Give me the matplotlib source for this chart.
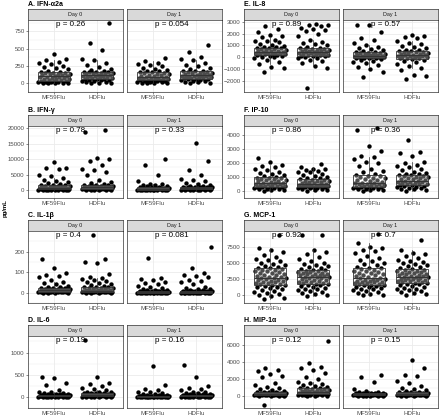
import numpy as np
import matplotlib
matplotlib.use('Agg')
import matplotlib.pyplot as plt
import matplotlib.transforms as mtransforms

plt.rcParams['font.family'] = ['Liberation Sans', 'DejaVu Sans']

# ---- data (pg/mL), order of each *_box: d0 MF59Flu, d0 HDFlu, d1 MF59Flu, d1 HDFlu ----
days = ['Day 0', 'Day 1']
groups = ['MF59Flu', 'HDFlu']

# A. IFN-a2a
ifna_d0_mf = [0, 2, 5, 8, 12, 15, 18, 22, 26, 30, 34, 40, 45, 50, 56, 62, 68, 74, 80, 86, 92, 97,
              104, 110, 116, 122, 128, 134, 140, 145, 150, 154, 158, 170, 185, 200, 215, 235, 255, 280, 300, 310, 330, 350, 430]
ifna_d0_hd = [0, 5, 10, 18, 25, 32, 38, 44, 49, 53, 57, 63, 68, 74, 80, 86, 92, 97, 102, 106, 110, 113,
              118, 124, 130, 136, 142, 148, 153, 158, 162, 165, 167, 180, 195, 210, 230, 260, 300, 330, 350, 480, 580, 870]
ifna_d1_mf = [0, 3, 6, 10, 14, 18, 22, 27, 31, 35, 39, 45, 50, 54, 58, 62, 66, 70, 74, 78, 82, 85,
              92, 100, 108, 116, 124, 132, 140, 148, 155, 161, 166, 175, 185, 195, 210, 225, 245, 265, 280, 300, 320, 360]
ifna_d1_hd = [0, 8, 15, 22, 30, 38, 45, 52, 58, 63, 66, 72, 76, 80, 85, 90, 95, 100, 104, 108, 111, 113,
              120, 126, 132, 138, 144, 150, 156, 162, 167, 172, 176, 185, 200, 220, 245, 270, 300, 330, 350, 380, 450, 550]
ifna_box = [[36, 100, 159], [59, 114, 168], [41, 86, 168], [68, 114, 177]]
ifna_p = ['0.26', '0.054']

# B. IFN-g
ifng_d0_mf = [0, 30, 60, 90, 120, 150, 180, 200, 220, 235, 245, 280, 330, 380, 430, 480, 530, 580, 630, 680, 730, 780,
              850, 930, 1000, 1100, 1200, 1300, 1400, 1500, 1600, 1700, 1780, 2000, 2300, 2600, 2900, 3300, 4000, 4500, 4800, 7000, 7200, 7300, 9000]
ifng_d0_hd = [0, 40, 80, 120, 160, 200, 240, 280, 320, 360, 390, 430, 470, 520, 570, 620, 670, 720, 770, 820, 860, 890,
              950, 1020, 1100, 1180, 1260, 1340, 1420, 1500, 1600, 1700, 1780, 2000, 2400, 2800, 3300, 5000, 6000, 6500, 7000, 8000, 9500, 10000, 10300, 18800, 19500]
ifng_d1_mf = [0, 20, 40, 60, 80, 100, 120, 140, 160, 180, 195, 220, 250, 280, 310, 340, 370, 400, 430, 460, 480, 495,
              530, 570, 610, 650, 690, 730, 780, 830, 880, 930, 980, 1100, 1250, 1400, 1550, 1700, 1900, 2100, 3000, 5000, 8000, 10000]
ifng_d1_hd = [0, 30, 60, 90, 120, 150, 180, 210, 240, 270, 290, 320, 350, 380, 410, 440, 470, 500, 530, 560, 580, 595,
              640, 690, 740, 790, 840, 890, 940, 990, 1050, 1120, 1180, 1300, 1500, 1700, 2000, 2400, 3000, 3300, 3500, 4800, 6500, 9300, 15300]
ifng_box = [[250, 800, 1800], [400, 900, 1800], [200, 500, 1000], [300, 600, 1200]]
ifng_p = ['0.78', '0.33']

# C. IL-1b
il1b_d0_mf = [0, 0.3, 0.6, 0.9, 1.2, 1.5, 1.8, 2.1, 2.4, 2.7, 2.9, 3.5, 4, 5, 6, 7, 8, 9, 10, 10.5, 11, 11.5,
              13, 14, 15, 16, 17, 18, 19, 20, 21, 22, 22.5, 26, 30, 35, 40, 45, 50, 60, 75, 80, 85, 95, 120, 165]
il1b_d0_hd = [0, 0.3, 0.6, 0.9, 1.2, 1.5, 1.8, 2.1, 2.4, 2.7, 2.9, 3.5, 4, 4.5, 5, 6, 6.5, 7, 8, 8.5, 9, 9.5,
              11, 13, 15, 17, 19, 21, 23, 25, 27, 28, 29, 33, 37, 40, 45, 50, 55, 60, 65, 70, 75, 90, 145, 150, 165, 280]
il1b_d1_mf = [0, 0, 0.1, 0.1, 0.2, 0.2, 0.3, 0.3, 0.4, 0.4, 0.5, 0.7, 0.9, 1.1, 1.3, 1.5, 1.8, 2.0, 2.3, 2.5, 2.7, 2.9,
              3.3, 3.7, 4.1, 4.5, 5, 5.5, 6, 6.5, 7, 7.5, 7.9, 9, 11, 13, 15, 20, 25, 30, 35, 40, 45, 50, 60, 65, 70, 170]
il1b_d1_hd = [0, 0, 0.1, 0.1, 0.2, 0.2, 0.3, 0.3, 0.4, 0.4, 0.5, 0.8, 1.1, 1.4, 1.7, 2, 2.3, 2.6, 2.9, 3.2, 3.5, 3.8,
              4.5, 5, 5.5, 6, 6.5, 7, 7.5, 8, 8.5, 9, 9.7, 12, 14, 17, 20, 25, 30, 40, 50, 55, 60, 75, 80, 85, 95, 120, 220]
il1b_box = [[3, 12, 23], [3, 10, 30], [0.5, 3, 8], [0.5, 4, 10]]
il1b_p = ['0.4', '0.081']

# D. IL-6
il6_d0_mf = [0, 1, 2, 3, 4, 5, 6, 7, 8, 9, 9.5, 12, 14, 16, 18, 20, 22, 24, 26, 27, 28, 29,
             32, 34, 36, 38, 40, 42, 44, 46, 47, 48, 49, 55, 60, 65, 70, 80, 90, 100, 120, 150, 270, 320, 420, 440]
il6_d0_hd = [0, 1.5, 3, 4.5, 6, 7.5, 9, 10.5, 12, 13, 14, 17, 19, 22, 24, 27, 29, 31, 33, 35, 37, 39,
             43, 47, 51, 55, 59, 63, 67, 71, 74, 77, 79, 85, 90, 100, 110, 120, 150, 180, 200, 250, 300, 320, 460, 1290]
il6_d1_mf = [0, 0.5, 1, 1.5, 2, 2.5, 3, 3.5, 4, 4.5, 4.8, 6, 7, 8, 9, 10, 11, 12, 13, 13.5, 14, 14.5,
             16, 17.5, 19, 20.5, 22, 23.5, 25, 26.5, 28, 29, 29.5, 35, 40, 45, 55, 65, 80, 100, 120, 150, 180, 260, 700]
il6_d1_hd = [0, 1, 2, 3, 4, 5, 6, 7, 8, 9, 9.5, 11, 12.5, 14, 15.5, 17, 18.5, 20, 21.5, 23, 24, 24.5,
             27, 29, 31, 33, 35, 37.5, 40, 42.5, 45, 47.5, 49, 55, 60, 70, 80, 90, 100, 120, 150, 180, 200, 240, 460, 720]
il6_box = [[10, 30, 50], [15, 40, 80], [5, 15, 30], [10, 25, 50]]
il6_p = ['0.19', '0.16']

# E. IL-8
il8_d0_mf = [-1200, -900, -800, -600, -400, -250, -100, 0, 60, 110, 150, 190, 215, 240, 265, 290, 315, 340, 360, 380, 400, 415,
             450, 490, 530, 570, 610, 650, 690, 730, 760, 790, 810, 850, 900, 980, 1050, 1150, 1250, 1350, 1400, 1500, 1700, 1800, 1900, 2100, 2400, 2600]
il8_d0_hd = [-2600, -900, -700, -500, -350, -200, -100, -20, 30, 70, 100, 140, 170, 200, 230, 260, 290, 320, 350, 375, 395, 410,
             450, 480, 510, 540, 570, 600, 630, 670, 700, 730, 750, 800, 900, 1000, 1100, 1200, 1300, 1500, 1800, 2000, 2200, 2300, 2400, 2500, 2600, 2700, 2750, 2800]
il8_d1_mf = [-1700, -1200, -1000, -800, -650, -500, -400, -300, -200, -150, -100, -70, -50, -30, -10, 10, 30, 50, 70, 85, 95, 105,
             130, 160, 190, 220, 250, 280, 310, 340, 370, 395, 415, 460, 520, 600, 700, 800, 900, 1000, 1200, 1500, 1600, 2100, 2700, 2750]
il8_d1_hd = [-1800, -1600, -1500, -1100, -900, -700, -550, -400, -300, -200, -130, -90, -60, -30, 0, 30, 60, 90, 115, 135, 150, 165,
             200, 235, 270, 305, 340, 375, 410, 445, 475, 500, 525, 580, 650, 750, 850, 950, 1100, 1200, 1400, 1600, 1700, 1800, 1900]
il8_box = [[170, 420, 815], [110, 420, 760], [-85, 110, 420], [-110, 170, 530]]
il8_p = ['0.89', '0.57']

# F. IP-10
ip10_d0_mf = [0, 40, 80, 120, 150, 180, 210, 235, 255, 275, 290, 320, 345, 370, 395, 420, 445, 470, 495, 520, 545, 565,
              610, 650, 690, 730, 770, 810, 850, 890, 920, 950, 970, 1020, 1080, 1150, 1220, 1300, 1400, 1500, 1600, 1700, 1800, 1900, 2050, 2350]
ip10_d0_hd = [0, 50, 90, 130, 160, 190, 220, 245, 265, 280, 290, 310, 325, 340, 355, 370, 385, 400, 420, 440, 460, 475,
              510, 545, 580, 615, 650, 685, 720, 755, 790, 825, 855, 900, 950, 1000, 1080, 1150, 1250, 1350, 1400, 1450, 1500, 1550, 1600, 1700, 1950]
ip10_d1_mf = [0, 40, 80, 120, 150, 180, 210, 235, 255, 275, 290, 320, 350, 380, 410, 440, 470, 500, 530, 560, 585, 605,
              660, 710, 760, 810, 860, 910, 960, 1010, 1060, 1110, 1150, 1250, 1350, 1450, 1600, 1800, 2000, 2100, 2300, 2450, 2500, 2900, 3250, 4400, 4500]
ip10_d1_hd = [0, 60, 120, 170, 210, 250, 290, 320, 350, 380, 400, 440, 470, 500, 530, 560, 590, 620, 650, 680, 710, 740,
              790, 830, 870, 910, 950, 990, 1030, 1070, 1100, 1130, 1155, 1200, 1250, 1300, 1400, 1500, 1600, 1700, 1800, 1900, 2000, 2100, 2500, 2700, 2800, 3650]
ip10_box = [[295, 570, 975], [295, 480, 860], [295, 610, 1160], [410, 750, 1160]]
ip10_p = ['0.86', '0.36']

# G. MCP-1
mcp1_d0_mf = [-700, -400, -100, 0, 150, 300, 450, 600, 750, 900, 1050, 1200, 1300, 1400, 1500,
              1600, 1680, 1760, 1840, 1920, 2000, 2080, 2160, 2240, 2320, 2400, 2480, 2560, 2620, 2670,
              2750, 2850, 2950, 3050, 3150, 3250, 3350, 3450, 3550, 3650, 3750, 3850, 3950, 4050, 4120,
              4250, 4400, 4550, 4700, 4850, 5000, 5200, 5400, 5600, 5900, 6200, 6600, 7000, 7300, 9300]
mcp1_d0_hd = [-200, 0, 100, 250, 400, 550, 700, 850, 1000, 1150, 1300, 1420, 1530, 1620, 1690,
              1760, 1840, 1920, 2000, 2080, 2160, 2240, 2320, 2400, 2480, 2560, 2640, 2720, 2780, 2820,
              2900, 2970, 3040, 3110, 3180, 3250, 3320, 3390, 3460, 3530, 3600, 3670, 3740, 3810, 3860,
              4000, 4150, 4300, 4450, 4600, 4800, 5000, 5300, 5600, 5900, 6300, 6600, 7000, 9250, 9300]
mcp1_d1_mf = [0, 50, 150, 300, 450, 600, 750, 900, 1000, 1100, 1200, 1300, 1400, 1470, 1530,
              1600, 1670, 1740, 1810, 1880, 1950, 2020, 2090, 2160, 2230, 2300, 2370, 2440, 2510, 2570,
              2700, 2810, 2920, 3030, 3140, 3250, 3360, 3470, 3580, 3690, 3800, 3910, 4020, 4130, 4220,
              4400, 4600, 4800, 5000, 5250, 5500, 5800, 6100, 6500, 6800, 7000, 7300, 7500, 8000, 9400]
mcp1_d1_hd = [0, 100, 250, 400, 550, 700, 850, 1000, 1150, 1300, 1450, 1580, 1680, 1770, 1840,
              1900, 1970, 2040, 2110, 2180, 2250, 2320, 2390, 2460, 2530, 2600, 2670, 2740, 2790, 2830,
              2900, 2980, 3060, 3140, 3220, 3300, 3380, 3460, 3540, 3620, 3700, 3780, 3860, 3940, 4050,
              4200, 4350, 4500, 4650, 4800, 4950, 5100, 5300, 5500, 5700, 6000, 6300, 6500, 7000, 8600]
mcp1_box = [[1550, 2690, 4140], [1710, 2840, 3880], [1550, 2585, 4240], [1860, 2840, 4080]]
mcp1_p = ['0.92', '0.7']

# H. MIP-1a
mip1a_d0_mf = [-1000, 0, 20, 40, 55, 70, 85, 95, 105, 112, 118, 130, 140, 150, 160, 170, 180, 190, 200, 210, 220, 230,
               250, 265, 280, 300, 320, 340, 360, 380, 400, 415, 425, 470, 520, 600, 700, 800, 900, 1100, 1300, 1500, 2200, 2400, 2600, 2900, 3000, 3300]
mip1a_d0_hd = [0, 20, 40, 60, 80, 100, 120, 140, 160, 180, 195, 220, 240, 260, 280, 300, 320, 340, 360, 385, 405, 425,
               470, 510, 550, 590, 630, 670, 710, 750, 800, 850, 890, 950, 1000, 1100, 1200, 1300, 1400, 1500, 1700, 2000, 2200, 2700, 3000, 3300, 3400, 3900, 6500]
mip1a_d1_mf = [0, 10, 20, 30, 40, 50, 60, 70, 80, 90, 95, 110, 120, 130, 140, 150, 160, 170, 180, 190, 195, 198,
               210, 220, 230, 240, 250, 260, 270, 280, 290, 295, 298, 320, 340, 370, 400, 450, 500, 600, 800, 1600, 2200, 2500]
mip1a_d1_hd = [0, 15, 30, 45, 60, 70, 80, 90, 100, 110, 115, 130, 140, 150, 160, 170, 180, 190, 200, 210, 220, 230,
               250, 265, 280, 300, 320, 340, 360, 380, 400, 415, 425, 480, 550, 650, 800, 1000, 1200, 1500, 1800, 2300, 2500, 3300, 4200]
mip1a_box = [[120, 235, 430], [200, 430, 900], [100, 200, 300], [120, 235, 430]]
mip1a_p = ['0.12', '0.15']

panels = [
    ('A. IFN-\u03b12a', [ifna_d0_mf, ifna_d0_hd, ifna_d1_mf, ifna_d1_hd], ifna_box, ifna_p,
     (-68, 914), [0, 250, 500, 750]),
    ('B. IFN-\u03b3', [ifng_d0_mf, ifng_d0_hd, ifng_d1_mf, ifng_d1_hd], ifng_box, ifng_p,
     (-700, 20700), [0, 5000, 10000, 15000, 20000]),
    ('C. IL-1\u03b2', [il1b_d0_mf, il1b_d0_hd, il1b_d1_mf, il1b_d1_hd], il1b_box, il1b_p,
     (-24, 300), [0, 100, 200]),
    ('D. IL-6', [il6_d0_mf, il6_d0_hd, il6_d1_mf, il6_d1_hd], il6_box, il6_p,
     (-97, 1373), [0, 500, 1000]),
    ('E. IL-8', [il8_d0_mf, il8_d0_hd, il8_d1_mf, il8_d1_hd], il8_box, il8_p,
     (-2925, 3144), [-2000, -1000, 0, 1000, 2000, 3000]),
    ('F. IP-10', [ip10_d0_mf, ip10_d0_hd, ip10_d1_mf, ip10_d1_hd], ip10_box, ip10_p,
     (-250, 4665), [0, 1000, 2000, 3000, 4000]),
    ('G. MCP-1', [mcp1_d0_mf, mcp1_d0_hd, mcp1_d1_mf, mcp1_d1_hd], mcp1_box, mcp1_p,
     (-1240, 9940), [0, 2500, 5000, 7500]),
    ('H. MIP-1\u03b1', [mip1a_d0_mf, mip1a_d0_hd, mip1a_d1_mf, mip1a_d1_hd], mip1a_box, mip1a_p,
     (-1410, 7056), [0, 2000, 4000, 6000]),
]

W, H = 440, 417
fig = plt.figure(figsize=(W / 100, H / 100), dpi=100)

GRID = '#EBEBEB'
DARK = '#333333'


def px_axes(x, y, w, h):
    return fig.add_axes([x / W, 1 - (y + h) / H, w / W, h / H])


def draw_facet(ax, data, boxes, ylim, yticks, ptxt, show_y):
    ax.set_xlim(0.4, 2.6)
    ax.set_ylim(*ylim)
    ax.set_yticks(yticks)
    step = yticks[1] - yticks[0]
    minors = np.arange(yticks[0] - step / 2, ylim[1], step)
    ax.set_yticks(minors, minor=True)
    ax.grid(True, which='major', color=GRID, lw=0.6, zorder=0)
    ax.grid(True, which='minor', axis='y', color=GRID, lw=0.3, zorder=0)
    ax.set_axisbelow(True)
    for s in ax.spines.values():
        s.set_color(DARK)
        s.set_linewidth(0.5)
    for k, vals in enumerate(data):
        pos = k + 1
        vals = np.asarray(vals, dtype=float)
        q1, med, q3 = boxes[k]
        iqr = q3 - q1
        lo = vals[vals >= q1 - 1.5 * iqr].min()
        hi = vals[vals <= q3 + 1.5 * iqr].max()
        n = len(vals)
        offs = ((np.arange(n) + 0.5) * 0.618034) % 1 - 0.5
        ax.scatter(pos + offs * 0.74, vals, s=10, c='black', linewidths=0, zorder=3)
        st = dict(med=med, q1=q1, q3=q3, whislo=lo, whishi=hi, fliers=[])
        ax.bxp([st], positions=[pos], widths=0.75, showcaps=False, showfliers=False,
               patch_artist=True,
               boxprops=dict(facecolor=(1, 1, 1, 0.3), edgecolor=DARK, linewidth=0.6),
               medianprops=dict(color=DARK, linewidth=0.8),
               whiskerprops=dict(color=DARK, linewidth=0.5), zorder=4)
    ax.set_xticks([1, 2])
    ax.set_xticklabels(groups)
    ax.tick_params(axis='x', which='minor', bottom=False)
    ax.tick_params(which='major', length=1.5, width=0.4, color=DARK, labelsize=4.4,
                   labelcolor='#4D4D4D', pad=1)
    ax.tick_params(which='minor', length=0)
    if not show_y:
        ax.tick_params(axis='y', labelleft=False, length=0)
    trans = mtransforms.blended_transform_factory(ax.transData, ax.transAxes)
    ax.text(1.05, 0.985, 'p = ' + ptxt, transform=trans, ha='left', va='top',
            fontsize=5.8, color='black', zorder=6)


col_x = [[28, 127], [244, 343]]
panel_w = 95
row_top = [9, 115, 220, 325]
strip_h = 11
panel_h = 72

for i, (title, data, boxes, pvals, ylim, yticks) in enumerate(panels):
    col = i // 4
    row = i % 4
    top = row_top[row]
    fig.text(col_x[col][0] / W, 1 - (top - 4.5) / H, title, fontsize=5.0, fontweight='bold',
             ha='left', va='center')
    for d in range(2):
        x0 = col_x[col][d]
        sax = px_axes(x0, top, panel_w, strip_h)
        sax.set_facecolor('#D9D9D9')
        sax.set_xticks([])
        sax.set_yticks([])
        for s in sax.spines.values():
            s.set_color(DARK)
            s.set_linewidth(0.5)
        sax.text(0.5, 0.5, days[d], ha='center', va='center', fontsize=3.9, color='#1A1A1A',
                 transform=sax.transAxes)
        ax = px_axes(x0, top + strip_h, panel_w, panel_h)
        draw_facet(ax, data[2 * d:2 * d + 2], boxes[2 * d:2 * d + 2], ylim, yticks,
                   pvals[d], d == 0)

fig.text(5 / W, 1 - 208 / H, 'pg/mL', rotation=90, fontsize=4.3, fontweight='bold',
         ha='center', va='center')

fig.savefig('out.png', dpi=100)
